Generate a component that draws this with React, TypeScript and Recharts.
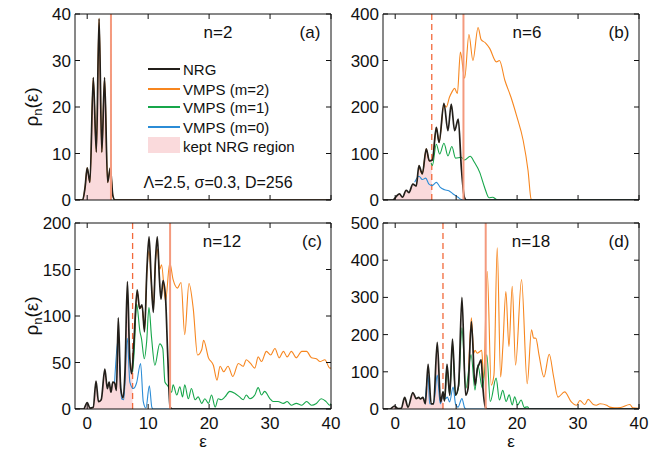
import React from 'react';
import { ComposedChart, Line, Area, XAxis, YAxis, ReferenceLine } from 'recharts';

type Pt = [number, number];

const xTicks = [0, 10, 20, 30, 40];

// panel (a), n=2
const nrgA: Pt[] = [[-2, 0], [-0.75, 0], [-0.35, 2.7], [0, 6.9], [0.45, 3.8], [1.0, 26.3], [1.5, 10.3], [1.95, 39], [2.4, 10.3], [2.85, 26.3], [3.35, 3.8], [3.8, 6.9], [4.2, 1], [4.55, 0], [40, 0]];
const fillA: Pt[] = [[-2, 0], [-0.75, 0], [-0.35, 2.7], [0, 6.9], [0.45, 3.8], [1.0, 26.3], [1.5, 10.3], [1.95, 39], [2.4, 10.3], [2.85, 26.3], [3.35, 3.8], [3.8, 6.9], [3.9, 6.5]];

// panel (b), n=6
const nrgB: Pt[] = [[-2, 0], [-0.4, 0], [0.2, 8], [0.7, 13], [1.2, 6], [1.8, 21], [2.25, 16], [2.9, 34], [3.45, 30], [3.9, 74], [4.45, 56], [5.1, 110], [5.6, 84], [6.1, 86], [6.75, 156], [7.2, 124], [8.0, 208], [8.65, 149], [9.2, 206], [9.75, 149], [10.35, 174], [10.85, 70], [11.35, 6], [11.7, 0], [40, 0]];
const m2B: Pt[] = [[3.9, 74], [4.45, 56], [5.1, 110], [5.6, 84], [6.1, 86], [6.75, 156], [7.2, 124], [8.0, 205], [8.4, 200], [8.9, 221], [9.3, 232], [9.75, 240], [10.2, 229], [10.7, 318], [11.4, 262], [12.1, 356], [12.75, 300], [13.6, 371], [14.1, 345], [14.8, 338], [15.5, 326], [16.6, 297], [17.1, 300], [18.0, 257], [19.0, 221], [19.9, 182], [21.0, 128], [21.8, 63], [22.3, 2], [22.6, 0], [40, 0]];
const m1B: Pt[] = [[5.9, 80], [6.1, 74], [6.74, 120], [7.3, 99], [8.0, 122], [8.66, 95], [9.3, 115], [9.9, 90], [10.84, 92], [11.39, 86], [12.3, 94], [13.0, 81], [13.85, 60], [14.67, 27], [15.4, 5], [16.0, 6], [16.5, 2], [16.8, 0], [40, 0]];
const m0B: Pt[] = [[3.2, 38], [3.9, 51], [4.45, 44], [5.0, 47], [5.55, 34], [6.1, 31], [6.75, 38], [7.4, 27], [8.1, 22], [8.8, 20], [9.5, 13], [10.3, 6], [10.85, 1], [11.2, 0], [40, 0]];
const fillB: Pt[] = [[-2, 0], [-0.4, 0], [0.2, 8], [0.7, 13], [1.2, 6], [1.8, 21], [2.25, 16], [2.9, 34], [3.45, 30], [3.9, 74], [4.45, 56], [5.1, 110], [5.6, 84], [6.0, 84]];

// panel (c), n=12
const nrgC: Pt[] = [[-2, 0], [-0.6, 0], [0, 7], [0.45, 1], [1.0, 2], [1.45, 30], [1.85, 8], [2.3, 10], [2.9, 43], [3.3, 22], [3.6, 29], [3.9, 18], [4.2, 29], [4.5, 28], [4.8, 20], [5.1, 98], [5.5, 22], [5.9, 12], [6.2, 40], [6.6, 137], [6.95, 60], [7.3, 38], [7.65, 70], [8.2, 128], [8.6, 108], [9.0, 112], [9.4, 83], [9.8, 150], [10.15, 185], [10.5, 140], [10.85, 104], [11.2, 160], [11.5, 185], [11.85, 140], [12.1, 118], [12.45, 138], [12.85, 120], [13.2, 60], [13.6, 2], [14, 0], [40, 0]];
const m2C: Pt[] = [[7.3, 38], [7.65, 68], [8.2, 126], [8.6, 108], [9.0, 110], [9.4, 85], [9.8, 148], [10.15, 170], [10.5, 138], [10.85, 108], [11.2, 158], [11.5, 172], [11.9, 150], [12.2, 155], [12.85, 116], [13.55, 157], [14.1, 139], [14.8, 130], [15.4, 136], [16.0, 80], [16.7, 135], [17.4, 108], [18.1, 58], [18.8, 64], [19.1, 74], [19.9, 55], [20.7, 47], [21.3, 31], [21.8, 46], [22.4, 40], [23.1, 46], [23.9, 35], [24.8, 49], [25.6, 46], [26.1, 53], [26.8, 49], [27.5, 44], [28.05, 56], [28.6, 51], [29.4, 62], [30.1, 58], [30.8, 65], [31.5, 55], [32.2, 62], [32.8, 56], [33.5, 62], [34.3, 55], [35.2, 62], [36.0, 62], [36.8, 55], [37.6, 54], [38.2, 51], [39.0, 53], [39.8, 44], [40, 44]];
const m1C: Pt[] = [[7.45, 40], [7.7, 60], [8.1, 113], [8.66, 83], [8.9, 76], [9.37, 54], [9.75, 72], [10.13, 109], [10.57, 76], [11.1, 47], [11.9, 70], [12.4, 65], [12.75, 29], [13.2, 25], [13.85, 18], [14.1, 26], [14.7, 15], [15.2, 24], [15.65, 13], [16.0, 26], [16.6, 11], [17.1, 22], [17.7, 10], [18.2, 13], [18.8, 6], [19.3, 11], [19.9, 6], [20.4, 15], [21.0, 2], [21.5, 11], [22.0, 10], [22.6, 13], [23.4, 19], [24.2, 17], [25.0, 13], [25.6, 10], [26.1, 15], [26.7, 11], [27.5, 15], [28.05, 23], [28.6, 15], [29.1, 19], [30.0, 11], [30.5, 8], [31.3, 8], [32.2, 6], [32.8, 8], [33.5, 4], [34.3, 6], [35.2, 4], [36.0, 8], [36.8, 4], [37.6, 6], [38.4, 11], [39.2, 8], [39.8, 4], [40, 6]];
const m0C: Pt[] = [[4.5, 29], [5.1, 76], [5.65, 11], [6.0, 10], [6.58, 76], [7.0, 29], [7.56, 22], [8.1, 28], [8.76, 49], [9.2, 8], [9.64, 1], [10.2, 25], [10.6, 2], [10.8, 0], [40, 0]];
const fillC: Pt[] = [[-2, 0], [-0.6, 0], [0, 7], [0.45, 1], [1.0, 2], [1.45, 30], [1.85, 8], [2.3, 10], [2.9, 43], [3.3, 22], [3.6, 29], [3.9, 18], [4.2, 29], [4.5, 28], [4.8, 20], [5.1, 98], [5.5, 22], [5.9, 12], [6.2, 40], [6.6, 137], [6.95, 60], [7.3, 38], [7.45, 45]];

// panel (d), n=18
const nrgD: Pt[] = [[-2, 0], [-0.9, 0], [-0.1, 8], [0.45, 1], [1.0, 2], [1.55, 31], [2.1, 5], [2.9, 44], [3.45, 28], [3.85, 31], [4.15, 27], [4.55, 31], [4.95, 14], [5.4, 120], [5.9, 14], [6.3, 14], [6.9, 179], [7.45, 19], [7.85, 46], [8.1, 22], [8.5, 120], [8.95, 37], [9.4, 188], [9.9, 37], [10.4, 64], [10.95, 300], [11.55, 37], [11.95, 55], [12.5, 235], [13.1, 64], [13.5, 109], [13.75, 120], [14.1, 132], [14.4, 55], [14.8, 5], [15.05, 0], [40, 0]];
const m2D: Pt[] = [[11.95, 55], [12.5, 245], [12.9, 150], [13.1, 158], [13.46, 150], [13.85, 154], [14.2, 158], [14.5, 82], [15.1, 370], [15.76, 64], [16.2, 91], [16.74, 433], [17.3, 86], [17.65, 164], [18.16, 316], [18.66, 168], [19.2, 330], [19.75, 118], [20.73, 348], [21.66, 68], [22.37, 213], [22.7, 191], [23.08, 190], [23.6, 145], [24.4, 86], [25.27, 147], [26.0, 86], [26.7, 32], [27.8, 46], [28.9, 19], [29.75, 10], [30.3, 23], [31.1, 12], [31.66, 26], [32.5, 12], [33, 10], [33.6, 14], [34.7, 10], [35.2, 5], [36, 3], [37, 4], [38.5, 12], [39, 3], [40, 2]];
const m1D: Pt[] = [[7.84, 46], [8.1, 22], [8.5, 115], [8.95, 37], [9.4, 175], [9.9, 37], [10.4, 60], [10.95, 218], [11.6, 56], [12.45, 146], [13.1, 51], [13.55, 119], [14.3, 56], [15.03, 146], [15.6, 20], [16.56, 83], [17.1, 24], [17.65, 50], [18.2, 20], [18.7, 38], [19.2, 11], [19.6, 33], [20.1, 11], [20.65, 24], [21.2, 4], [21.7, 6], [22, 0], [40, 0]];
const m0D: Pt[] = [[4.9, 14], [5.4, 91], [5.65, 14], [6.3, 14], [6.9, 91], [7.4, 14], [7.84, 37], [8.27, 28], [8.55, 32], [8.93, 19], [9.5, 59], [9.9, 14], [10.3, 5], [10.95, 28], [11.4, 3], [11.66, 0], [40, 0]];
const fillD: Pt[] = [[-2, 0], [-0.9, 0], [-0.1, 8], [0.45, 1], [1.0, 2], [1.55, 31], [2.1, 5], [2.9, 44], [3.45, 28], [3.85, 31], [4.15, 27], [4.55, 31], [4.95, 14], [5.4, 120], [5.9, 14], [6.3, 14], [6.9, 179], [7.45, 19], [7.85, 46]];

const C_NRG = '#231f1a';
const C_M2 = '#f7861f';
const C_M1 = '#16a64a';
const C_M0 = '#2b8cd6';
const C_FILL = '#fadadc';
const C_DASH = '#f26a3c';
const C_SOLID = '#f49a7e';
const FONT = '"Liberation Sans", Arial, sans-serif';

const toRows = (pts: Pt[]) => pts.map(([x, y]) => ({ x, y }));

type PanelProps = {
  left: number;
  top: number;
  bottom: boolean;
  yMax: number;
  yTicks: number[];
  nrg: Pt[];
  m2?: Pt[];
  m1?: Pt[];
  m0?: Pt[];
  fill: Pt[];
  dashX: number;
  solidX: number;
};

const Panel = ({ left, top, bottom, yMax, yTicks, nrg, m2, m1, m0, fill, dashX, solidX }: PanelProps) => {
  const h = bottom ? 240 : 215;
  const tickStyle = { fill: '#111', fontSize: 17, fontFamily: FONT };
  return (
    <div style={{ position: 'absolute', left, top }}>
      <ComposedChart width={345} height={h} margin={{ top: 13, right: 13, left: 35, bottom: bottom ? 10 : 5 }}>
        <XAxis xAxisId="b" type="number" dataKey="x" domain={[-2, 40]} ticks={xTicks} allowDataOverflow
          height={bottom ? 30 : 10} tickSize={-5} tickMargin={13} tick={tickStyle}
          tickFormatter={(v: number) => (bottom ? String(v) : '')}
          stroke="#111" tickLine={{ stroke: '#111' }} />
        <XAxis xAxisId="t" orientation="top" type="number" dataKey="x" domain={[-2, 40]} ticks={xTicks} allowDataOverflow
          height={1} tickSize={-5} tickFormatter={() => ''} stroke="#111" />
        <YAxis yAxisId="l" type="number" domain={[0, yMax]} ticks={yTicks} allowDataOverflow
          width={40} tickSize={-5} tickMargin={9} tick={tickStyle} stroke="#111" />
        <YAxis yAxisId="r" orientation="right" type="number" domain={[0, yMax]} ticks={yTicks} allowDataOverflow
          width={1} tickSize={-5} tickFormatter={() => ''} stroke="#111" />
        <Area xAxisId="b" yAxisId="l" data={toRows(fill)} dataKey="y" type="monotone" stroke="none"
          fill={C_FILL} fillOpacity={1} isAnimationActive={false} />
        <ReferenceLine xAxisId="b" yAxisId="l" x={dashX} stroke={C_DASH} strokeWidth={1.3} strokeDasharray="6 4" />
        {m2 && <Line xAxisId="b" yAxisId="l" data={toRows(m2)} dataKey="y" type="monotone" stroke={C_M2}
          strokeWidth={1.1} dot={false} isAnimationActive={false} />}
        {m1 && <Line xAxisId="b" yAxisId="l" data={toRows(m1)} dataKey="y" type="monotone" stroke={C_M1}
          strokeWidth={1.1} dot={false} isAnimationActive={false} />}
        {m0 && <Line xAxisId="b" yAxisId="l" data={toRows(m0)} dataKey="y" type="monotone" stroke={C_M0}
          strokeWidth={1.1} dot={false} isAnimationActive={false} />}
        <Line xAxisId="b" yAxisId="l" data={toRows(nrg)} dataKey="y" type="monotone" stroke={C_NRG}
          strokeWidth={1.7} dot={false} isAnimationActive={false} />
        <ReferenceLine xAxisId="b" yAxisId="l" x={solidX} stroke={C_SOLID} strokeWidth={2} />
      </ComposedChart>
    </div>
  );
};

const txt = (x: number, y: number, s: React.ReactNode, size = 17, align: 'center' | 'left' = 'center') => (
  <div style={{
    position: 'absolute', left: x, top: y, fontSize: size, fontFamily: FONT, color: '#111', whiteSpace: 'nowrap',
    transform: align === 'center' ? 'translate(-50%, -50%)' : 'translate(0, -50%)', lineHeight: 1,
  }}>{s}</div>
);

const yLabel = (x: number, y: number) => (
  <div style={{
    position: 'absolute', left: x, top: y, fontSize: 19, fontFamily: FONT, color: '#111', whiteSpace: 'nowrap',
    transform: 'translate(-50%, -50%) rotate(-90deg)', lineHeight: 1,
  }}>ρ<sub style={{ fontSize: 13 }}>n</sub>(ε)</div>
);

const legendRows = [
  { label: 'NRG', color: C_NRG, y: 69 },
  { label: 'VMPS (m=2)', color: C_M2, y: 89 },
  { label: 'VMPS (m=1)', color: C_M1, y: 107 },
  { label: 'VMPS (m=0)', color: C_M0, y: 127 },
];

export default function App() {
  return (
    <div style={{ position: 'absolute', left: 0, top: 0, width: 671, height: 450, background: '#fff', overflow: 'hidden' }}>
      <Panel left={0} top={0} bottom={false} yMax={40} yTicks={[0, 10, 20, 30, 40]}
        nrg={nrgA} m2={nrgA} fill={fillA} dashX={3.9} solidX={3.9} />
      <Panel left={308} top={0} bottom={false} yMax={400} yTicks={[0, 100, 200, 300, 400]}
        nrg={nrgB} m2={m2B} m1={m1B} m0={m0B} fill={fillB} dashX={6.0} solidX={11.2} />
      <Panel left={0} top={209} bottom yMax={200} yTicks={[0, 50, 100, 150, 200]}
        nrg={nrgC} m2={m2C} m1={m1C} m0={m0C} fill={fillC} dashX={7.45} solidX={13.6} />
      <Panel left={308} top={209} bottom yMax={500} yTicks={[0, 100, 200, 300, 400, 500]}
        nrg={nrgD} m2={m2D} m1={m1D} m0={m0D} fill={fillD} dashX={7.84} solidX={14.85} />

      {txt(218, 32, 'n=2')}
      {txt(310, 32, '(a)')}
      {txt(527, 32, 'n=6')}
      {txt(619, 32, '(b)')}
      {txt(222, 241, 'n=12')}
      {txt(312, 241, '(c)')}
      {txt(531, 241, 'n=18')}
      {txt(619, 241, '(d)')}

      {legendRows.map((r) => (
        <React.Fragment key={r.label}>
          <div style={{ position: 'absolute', left: 148, top: r.y - 1, width: 32, height: 2, background: r.color }} />
          {txt(183, r.y, r.label, 15, 'left')}
        </React.Fragment>
      ))}
      <div style={{ position: 'absolute', left: 148, top: 137, width: 32, height: 16, background: C_FILL }} />
      {txt(183, 146, 'kept NRG region', 15, 'left')}
      {txt(218, 183, 'Λ=2.5, σ=0.3, D=256', 16)}

      {yLabel(33, 107)}
      {yLabel(33, 316)}
      {txt(203, 441, 'ε', 17)}
      {txt(511, 441, 'ε', 17)}
    </div>
  );
}
